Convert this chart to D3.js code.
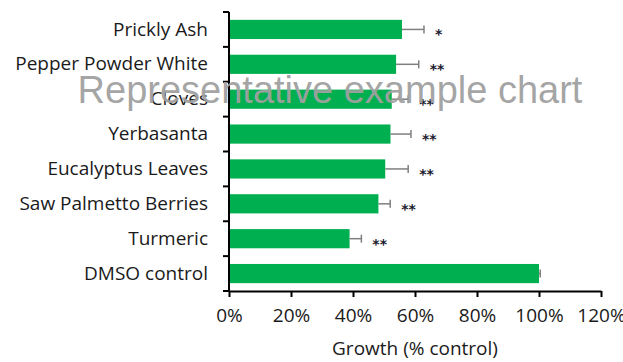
<!DOCTYPE html>
<html>
<head>
<meta charset="utf-8">
<script src="https://cdn.jsdelivr.net/npm/d3@7"></script>
<style>
  html, body { margin: 0; padding: 0; background: #fff; }
  svg { display: block; }
</style>
</head>
<body>
<svg id="chart" width="623" height="362"></svg>
<script>
// Growth of cultures treated with plant extracts, relative to the DMSO control
const categories = ["Prickly Ash", "Pepper Powder White", "Cloves", "Yerbasanta",
                    "Eucalyptus Leaves", "Saw Palmetto Berries", "Turmeric", "DMSO control"];
const growth = [55.8, 53.9, 52.5, 52.1, 50.4, 48.2, 38.9, 100];      // % of control
const errorPlus = [7.1, 7.3, 5.3, 6.6, 7.4, 3.8, 3.8, 0.4];          // upper error, %
const significance = ["*", "**", "**", "**", "**", "**", "**", ""];
const xTicks = [0, 20, 40, 60, 80, 100, 120];
const xTitle = "Growth (% control)";
const watermark = "Representative example chart";

const svg = d3.select("#chart");
const margin = { left: 229, right: 22, top: 12, bottom: 71 };
const W = 623, H = 362;
const labelFont = "'Open Sans', Lato, sans-serif";
const labelSize = 19;

const x = d3.scaleLinear().domain([0, 120]).range([margin.left, W - margin.right]);
const y = d3.scaleBand().domain(categories).range([margin.top, H - margin.bottom])
  .paddingInner(0.45).paddingOuter(0.225);

const rows = categories.map((c, i) => ({ c, v: growth[i], e: errorPlus[i], s: significance[i] }));

// bars
svg.append("g").selectAll("rect").data(rows).join("rect")
  .attr("x", x(0))
  .attr("y", d => y(d.c))
  .attr("width", d => x(d.v) - x(0))
  .attr("height", y.bandwidth())
  .attr("fill", "#00b050");

// error bars (positive side)
const eb = svg.append("g").attr("stroke", "#7f7f7f").attr("stroke-width", 1.5);
rows.forEach(d => {
  const cy = y(d.c) + y.bandwidth() / 2;
  eb.append("line").attr("x1", x(d.v)).attr("x2", x(d.v + d.e)).attr("y1", cy).attr("y2", cy);
  eb.append("line").attr("x1", x(d.v + d.e)).attr("x2", x(d.v + d.e)).attr("y1", cy - 4).attr("y2", cy + 4);
});

// significance stars
svg.append("g").selectAll("text").data(rows.filter(d => d.s)).join("text")
  .attr("x", d => x(d.v + d.e) + 11)
  .attr("y", d => y(d.c) + y.bandwidth() / 2 + 10)
  .attr("font-family", "'DejaVu Sans', sans-serif")
  .attr("font-size", 14)
  .attr("font-weight", "bold")
  .attr("fill", "#1a1a2e")
  .text(d => d.s);

// y axis
const yAxis = svg.append("g").attr("transform", `translate(${x(0)},0)`)
  .call(d3.axisLeft(y).tickSize(0).tickPadding(21));
yAxis.select(".domain").remove();
yAxis.selectAll("text").attr("font-family", labelFont).attr("font-size", labelSize).attr("fill", "#1a1a1a");
// y axis line with boundary ticks between categories
const bounds = d3.range(categories.length + 1).map(i =>
  i === categories.length ? y.range()[1] : y(categories[i]) - y.step() * y.paddingInner() / 2);
const yl = svg.append("g").attr("stroke", "#000").attr("stroke-width", 2);
yl.append("line").attr("x1", x(0)).attr("x2", x(0)).attr("y1", y.range()[0]).attr("y2", y.range()[1] + 1);
bounds.forEach(b => {
  yl.append("line").attr("x1", x(0) - 6).attr("x2", x(0)).attr("y1", b).attr("y2", b);
});

// x axis
const xAxis = svg.append("g").attr("transform", `translate(0,${H - margin.bottom})`)
  .call(d3.axisBottom(x).tickValues(xTicks).tickFormat(d => d + "%").tickSize(6).tickSizeOuter(0).tickPadding(12));
xAxis.select(".domain").attr("stroke", "#000").attr("stroke-width", 2);
xAxis.selectAll(".tick line").attr("stroke", "#000").attr("stroke-width", 2);
xAxis.selectAll("text").attr("font-family", labelFont).attr("font-size", labelSize).attr("fill", "#1a1a1a");

svg.append("text")
  .attr("x", (x(0) + x(120)) / 2)
  .attr("y", 355)
  .attr("text-anchor", "middle")
  .attr("font-family", labelFont)
  .attr("font-size", labelSize)
  .attr("fill", "#1a1a1a")
  .text(xTitle);

// watermark
svg.append("text")
  .attr("x", 330)
  .attr("y", 103)
  .attr("text-anchor", "middle")
  .attr("font-family", "'Liberation Sans', Arial, sans-serif")
  .attr("font-size", 38)
  .attr("fill", "#a0a0a0")
  .attr("fill-opacity", 0.95)
  .text(watermark);
</script>
</body>
</html>
